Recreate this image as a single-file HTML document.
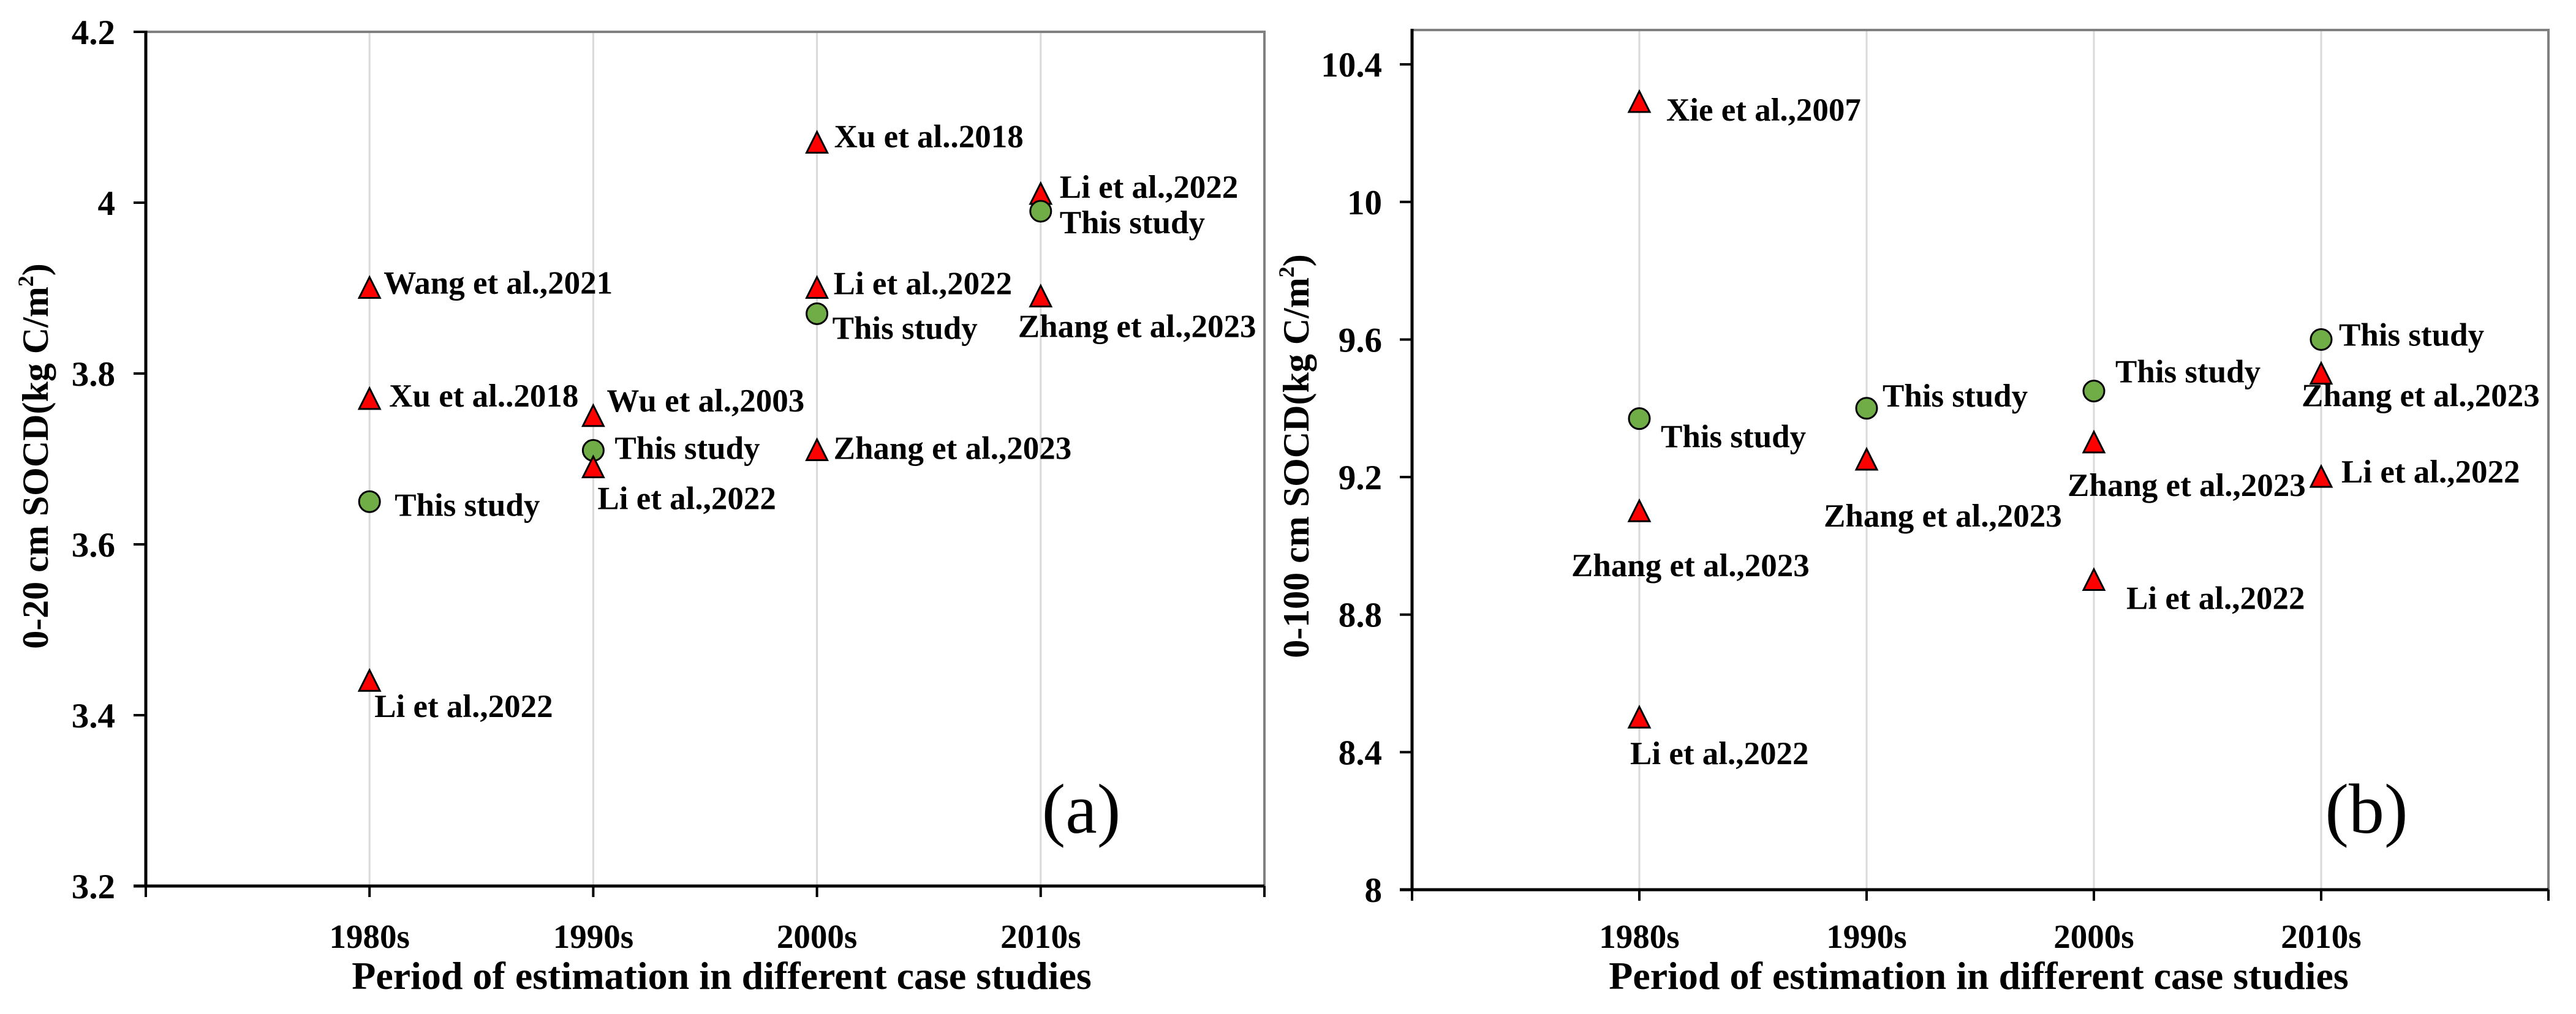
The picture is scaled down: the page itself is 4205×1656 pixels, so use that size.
<!DOCTYPE html>
<html><head><meta charset="utf-8">
<style>
html,body{margin:0;padding:0;background:#fff;}
svg{display:block;}
text{font-family:"Liberation Serif",serif;}
</style></head>
<body>
<svg id="chart" width="4205" height="1656" viewBox="0 0 4205 1656" xmlns="http://www.w3.org/2000/svg"></svg>
<script>
// categories
const categories = ["1980s","1990s","2000s","2010s"];
// panel a data
const aCat = [0,0,0,0, 1,1,1, 2,2,2,2, 3,3,3];
const aVal = [3.90,3.77,3.65,3.44, 3.75,3.71,3.69, 4.07,3.90,3.87,3.71, 4.01,3.99,3.89];
const aType = ["t","t","c","t", "t","c","t", "t","t","c","t", "t","c","t"];
const aLabel = ["Wang et al.,2021","Xu et al..2018","This study","Li et al.,2022",
 "Wu et al.,2003","This study","Li et al.,2022",
 "Xu et al..2018","Li et al.,2022","This study","Zhang et al.,2023",
 "Li et al.,2022","This study","Zhang et al.,2023"];
const aTicks = [3.2,3.4,3.6,3.8,4,4.2];
const aTickLabels = ["3.2","3.4","3.6","3.8","4","4.2"];
// panel b data
const bCat = [0,0,0,0, 1,1, 2,2,2, 3,3,3];
const bVal = [10.29,9.37,9.10,8.50, 9.40,9.25, 9.45,9.30,8.90, 9.60,9.50,9.20];
const bType = ["t","c","t","t", "c","t", "c","t","t", "c","t","t"];
const bLabel = ["Xie et al.,2007","This study","Zhang et al.,2023","Li et al.,2022",
 "This study","Zhang et al.,2023",
 "This study","Zhang et al.,2023","Li et al.,2022",
 "This study","Zhang et al.,2023","Li et al.,2022"];
const bTicks = [8,8.4,8.8,9.2,9.6,10,10.4];
const bTickLabels = ["8","8.4","8.8","9.2","9.6","10","10.4"];

// layout (label offsets in px, not data)
const aOff = [[23,9],[32,12],[41,23],[8,59],[22,-8],[35,14],[7,68],[28,7],[27,10],[25,41],[27,14],[31,6],[31,36],[-37,66]];
const bOff = [[44,30],[35,47],[-111,106],[-15,76],[26,-3],[-70,109],[35,-14],[-43,87],[53,47],[29,10],[-32,53],[33,9]];

const NS="http://www.w3.org/2000/svg";
const svg=document.getElementById('chart');
function mk(tag,attrs,parent){const e=document.createElementNS(NS,tag);for(const k in attrs)e.setAttribute(k,attrs[k]);(parent||svg).appendChild(e);return e;}

function panel(cfg){
  const g=mk('g',{});
  
  
  const {L,R,T,B,ymin,ymax}=cfg;
  const xs=i=>L+(i+1)*(R-L)/5;
  const ys=v=>B-(v-ymin)/(ymax-ymin)*(B-T);
  categories.forEach((c,i)=>{
    const l=mk('line',{x1:xs(i),x2:xs(i),y1:T,y2:B,stroke:'#d9d9d9','stroke-width':3},g);
    
    
  });
  const fr=mk('polyline',{points:`${L},${T} ${R},${T} ${R},${B}`,fill:'none',stroke:'#808080','stroke-width':4},g);
  
  
  const ya=mk('line',{x1:L,x2:L,y1:T-2,y2:B+2,stroke:'#000','stroke-width':5},g);
  
  
  const xa=mk('line',{x1:L-20,x2:R,y1:B,y2:B,stroke:'#000','stroke-width':5},g);
  
  
  for(let i=-1;i<=4;i++){
    mk('line',{x1:xs(i),x2:xs(i),y1:B,y2:B+18,stroke:'#000','stroke-width':4},g);
  }
  cfg.ticks.forEach((t,i)=>{
    const y=ys(t);
    mk('line',{x1:L-20,x2:L,y1:y,y2:y,stroke:'#000','stroke-width':4},g);
    const tx=mk('text',{x:cfg.tickX,y:y+20,'text-anchor':'end','font-size':57,'font-weight':'bold'},g);
    tx.textContent=cfg.tickLabels[i];
    
    
  });
  categories.forEach((c,i)=>{
    const tx=mk('text',{x:xs(i),y:1548,'text-anchor':'middle','font-size':55,'font-weight':'bold'},g);
    tx.textContent=c;
    
    
  });
  const xt=mk('text',{x:cfg.xTitleX,y:1615,'text-anchor':'middle','font-size':64,'font-weight':'bold'},g);
  xt.textContent='Period of estimation in different case studies';
  
  
  const yt=mk('text',{x:0,y:0,'text-anchor':'middle','font-size':60,'font-weight':'bold',transform:`translate(${cfg.yTitleX},745) rotate(-90)`},g);
  yt.innerHTML=cfg.yTitle+'(kg C/m<tspan font-size="36" dy="-24">2</tspan><tspan dy="24">)</tspan>';
  
  
  cfg.cat.forEach((ci,k)=>{
    const x=xs(ci), y=ys(cfg.val[k]);
    let m;
    if(cfg.type[k]==='t'){
      m=mk('polygon',{points:`${x},${y-18} ${x+17},${y+16} ${x-17},${y+16}`,fill:'#ff0000',stroke:'#000','stroke-width':3},g);
      
    } else {
      m=mk('circle',{cx:x,cy:y,r:17,fill:'#70ad47',stroke:'#000','stroke-width':3},g);
      
    }
    
    const o=cfg.off[k];
    const lb=mk('text',{x:x+o[0],y:y+o[1],'font-size':53,'font-weight':'bold'},g);
    lb.textContent=cfg.label[k];
    
    
  });
  const pl=mk('text',{x:cfg.plX,y:1360,'text-anchor':'middle','font-size':116},g);
  pl.textContent=cfg.panelLabel;
  
  
}

panel({name:'panel-a',L:238,R:2064,T:52,B:1447,ymin:3.2,ymax:4.2,ticks:aTicks,tickLabels:aTickLabels,tickX:188,
  cat:aCat,val:aVal,type:aType,label:aLabel,off:aOff,xTitleX:1178,yTitleX:78,yTitle:'0-20 cm SOCD',plX:1765,panelLabel:'(a)'});
panel({name:'panel-b',L:2305,R:4160,T:49,B:1453,ymin:8,ymax:10.5,ticks:bTicks,tickLabels:bTickLabels,tickX:2256,
  cat:bCat,val:bVal,type:bType,label:bLabel,off:bOff,xTitleX:3230,yTitleX:2136,yTitle:'0-100 cm SOCD',plX:3863,panelLabel:'(b)'});
</script>
</body></html>
